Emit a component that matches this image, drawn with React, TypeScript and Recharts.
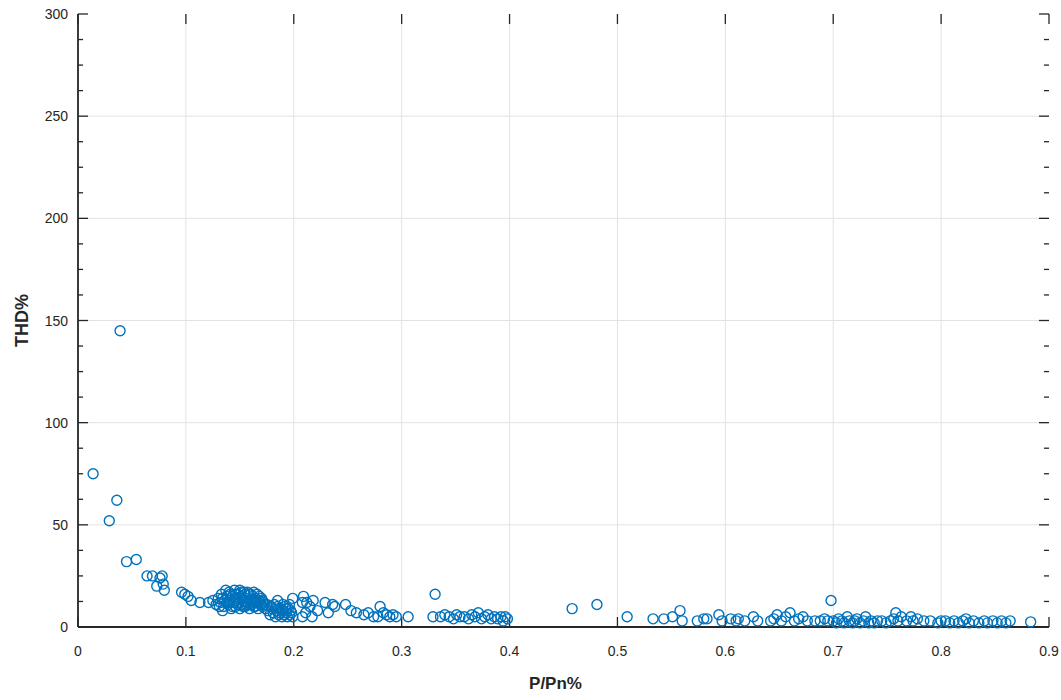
import { ScatterChart, Scatter, XAxis, YAxis, ReferenceLine } from "recharts"

// P/Pn (fraction) vs THD%
const steepPoints: [number, number][] = [
  [0.014, 75], [0.029, 52], [0.036, 62], [0.039, 145], [0.045, 32], [0.054, 33],
  [0.064, 25], [0.069, 25], [0.073, 20], [0.076, 24], [0.078, 25], [0.079, 21],
  [0.080, 18], [0.096, 17], [0.099, 16], [0.102, 15], [0.105, 13], [0.113, 12],
  [0.121, 12],
]

const clusterPoints: [number, number][] = [
  [0.125, 13], [0.128, 11], [0.130, 14], [0.132, 12], [0.133, 16], [0.134, 8],
  [0.135, 10], [0.136, 13], [0.137, 18], [0.138, 15], [0.139, 11], [0.140, 17],
  [0.140, 12], [0.141, 13], [0.142, 9], [0.143, 15], [0.144, 12], [0.145, 18],
  [0.146, 10], [0.146, 16], [0.147, 14], [0.148, 16], [0.149, 12], [0.150, 9],
  [0.150, 18], [0.151, 15], [0.152, 11], [0.152, 14], [0.153, 13], [0.154, 17],
  [0.155, 10], [0.156, 14], [0.157, 12], [0.157, 17], [0.158, 16], [0.158, 11],
  [0.159, 9], [0.160, 13], [0.161, 11], [0.162, 15], [0.163, 10], [0.163, 17],
  [0.164, 14], [0.165, 12], [0.166, 16], [0.167, 9], [0.168, 13], [0.169, 11],
  [0.170, 14], [0.171, 10], [0.172, 12], [0.174, 9], [0.175, 11],
  [0.131, 10], [0.134, 14], [0.138, 12], [0.141, 16], [0.143, 10], [0.145, 13],
  [0.148, 11], [0.151, 17], [0.153, 10], [0.155, 16], [0.156, 11], [0.160, 16],
  [0.162, 12], [0.164, 10], [0.166, 13], [0.168, 15], [0.171, 13], [0.173, 11],
  [0.176, 8], [0.178, 6], [0.180, 9], [0.181, 7], [0.182, 11], [0.183, 5],
  [0.184, 8], [0.185, 10], [0.185, 13], [0.186, 6], [0.187, 7], [0.188, 9],
  [0.189, 5], [0.190, 8], [0.190, 11], [0.191, 6], [0.192, 10], [0.193, 7],
  [0.194, 5], [0.195, 9], [0.196, 6], [0.197, 8], [0.198, 7], [0.199, 5],
  [0.199, 14], [0.179, 10], [0.186, 9], [0.193, 9], [0.196, 11],
]

const midPoints: [number, number][] = [
  [0.208, 12], [0.209, 15], [0.208, 5], [0.211, 7], [0.212, 12], [0.215, 10],
  [0.217, 5], [0.218, 13], [0.222, 8], [0.229, 12], [0.232, 7], [0.236, 11],
  [0.238, 10], [0.248, 11], [0.253, 8], [0.258, 7], [0.265, 6], [0.269, 7],
  [0.274, 5], [0.278, 5], [0.280, 10], [0.283, 7], [0.286, 6], [0.289, 5],
  [0.292, 6], [0.295, 5], [0.306, 5],
  [0.329, 5], [0.331, 16], [0.336, 5], [0.340, 6], [0.344, 5], [0.348, 4],
  [0.351, 6], [0.354, 5], [0.358, 5], [0.362, 4], [0.365, 6], [0.368, 5],
  [0.371, 7], [0.374, 4], [0.377, 5], [0.380, 6], [0.383, 4], [0.386, 5],
  [0.389, 4], [0.392, 5], [0.394, 3], [0.396, 5], [0.398, 4],
  [0.458, 9], [0.481, 11],
]

const highPoints: [number, number][] = [
  [0.509, 5], [0.533, 4], [0.543, 4], [0.551, 5], [0.558, 8], [0.560, 3],
  [0.574, 3], [0.580, 4], [0.583, 4], [0.594, 6], [0.597, 3], [0.605, 4],
  [0.610, 3], [0.612, 4], [0.618, 3], [0.626, 5], [0.630, 3], [0.642, 3],
  [0.645, 4], [0.648, 6], [0.652, 3], [0.656, 5], [0.660, 7], [0.664, 3],
  [0.668, 4], [0.672, 5], [0.676, 3], [0.683, 3], [0.688, 3], [0.692, 4],
  [0.695, 3], [0.698, 13], [0.700, 3], [0.703, 2], [0.705, 4], [0.708, 3],
  [0.710, 2], [0.713, 5], [0.715, 3], [0.718, 2], [0.720, 3], [0.722, 4],
  [0.725, 2], [0.728, 3], [0.730, 5], [0.733, 2], [0.735, 3], [0.738, 2],
  [0.741, 3], [0.745, 3], [0.749, 2], [0.753, 3], [0.756, 4], [0.758, 7],
  [0.760, 3], [0.763, 5], [0.768, 3], [0.772, 5], [0.774, 3], [0.778, 4],
  [0.784, 3], [0.790, 3], [0.797, 2], [0.800, 3], [0.804, 3], [0.808, 2],
  [0.812, 3], [0.816, 2], [0.820, 3], [0.823, 4], [0.826, 2], [0.830, 3],
  [0.835, 2], [0.840, 3], [0.843, 2], [0.848, 3], [0.852, 2], [0.856, 3],
  [0.860, 2], [0.864, 3], [0.883, 2.5],
]

const xTicks = [0, 0.1, 0.2, 0.3, 0.4, 0.5, 0.6, 0.7, 0.8, 0.9]
const xGrid = [0.1, 0.2, 0.3, 0.4, 0.5, 0.6, 0.7, 0.8]
const yTicks = [0, 50, 100, 150, 200, 250, 300]
const yMinorTicks = [
  12.5, 25, 37.5, 62.5, 75, 87.5, 112.5, 125, 137.5,
  162.5, 175, 187.5, 212.5, 225, 237.5, 262.5, 275, 287.5,
]
const yGrid = [50, 100, 150, 200, 250]

const X_MAX = 0.9
const Y_MAX = 300
// tick lengths in data units (about 10px major, 5px minor)
const X_TICK_MAJOR = 0.0093
const X_TICK_MINOR = 0.0047
const Y_TICK = 4.9

const AXIS = "#262626"
const GRID = "#e3e3e3"
const MARKER = "#0072BD"
const FONT = "'Liberation Sans', Arial, sans-serif"

const data = [...steepPoints, ...clusterPoints, ...midPoints, ...highPoints].map(
  ([x, y]) => ({ x, y })
)

function LeftTick(props: any) {
  const { x, y, payload } = props
  return (
    <text x={x} y={y} dy={5} textAnchor="end" fontSize={14} fontFamily={FONT} fill={AXIS}>
      {payload.value}
    </text>
  )
}

function BottomTick(props: any) {
  const { x, y, payload } = props
  return (
    <text x={x} y={y} dy={16} textAnchor="middle" fontSize={14} fontFamily={FONT} fill={AXIS}>
      {payload.value}
    </text>
  )
}

function Ring(props: any) {
  const { cx, cy } = props
  return <circle cx={cx} cy={cy} r={5} fill="none" stroke={MARKER} strokeWidth={1.4} />
}

export default function App() {
  const tickStyle = { stroke: AXIS, strokeWidth: 1.3 }
  return (
    <div style={{ position: "absolute", left: 0, top: 0, background: "#fff" }}>
      <ScatterChart width={1061} height={700} margin={{ top: 14, right: 12, bottom: 0, left: 0 }}>
        <XAxis
          type="number"
          dataKey="x"
          domain={[0, X_MAX]}
          ticks={xTicks}
          interval={0}
          height={73}
          tickSize={0}
          tickMargin={13}
          tick={<BottomTick />}
          tickLine={false}
          axisLine={{ stroke: AXIS, strokeWidth: 1.8 }}
          label={{
            value: "P/Pn%",
            position: "insideBottom",
            offset: 11,
            dx: -8,
            style: { fill: AXIS, fontSize: 17, fontWeight: "bold", fontFamily: FONT },
          }}
        />
        <XAxis
          xAxisId="top"
          orientation="top"
          type="number"
          domain={[0, X_MAX]}
          height={0}
          tick={false}
          tickLine={false}
          axisLine={{ stroke: AXIS, strokeWidth: 1.8 }}
        />
        <YAxis
          type="number"
          dataKey="y"
          domain={[0, Y_MAX]}
          ticks={yTicks}
          interval={0}
          width={78}
          tickSize={0}
          tickMargin={10}
          tick={<LeftTick />}
          tickLine={false}
          axisLine={{ stroke: AXIS, strokeWidth: 1.8 }}
          label={{
            value: "THD%",
            angle: -90,
            position: "insideLeft",
            offset: 22,
            style: { fill: AXIS, fontSize: 18, fontWeight: "bold", fontFamily: FONT, textAnchor: "middle" },
          }}
        />
        <YAxis
          yAxisId="right"
          orientation="right"
          type="number"
          domain={[0, Y_MAX]}
          width={0}
          tick={false}
          tickLine={false}
          axisLine={{ stroke: AXIS, strokeWidth: 1.8 }}
        />

        {/* grid */}
        {xGrid.map((v) => (
          <ReferenceLine key={`gx-${v}`} x={v} stroke={GRID} strokeWidth={1} />
        ))}
        {yGrid.map((v) => (
          <ReferenceLine key={`gy-${v}`} y={v} stroke={GRID} strokeWidth={1} />
        ))}

        {/* inward ticks on all four sides */}
        {xTicks.map((v) => (
          <ReferenceLine key={`tb-${v}`} segment={[{ x: v, y: 0 }, { x: v, y: Y_TICK }]} {...tickStyle} />
        ))}
        {xTicks.map((v) => (
          <ReferenceLine key={`tt-${v}`} segment={[{ x: v, y: Y_MAX - Y_TICK }, { x: v, y: Y_MAX }]} {...tickStyle} />
        ))}
        {yTicks.map((v) => (
          <ReferenceLine key={`tl-${v}`} segment={[{ x: 0, y: v }, { x: X_TICK_MAJOR, y: v }]} {...tickStyle} />
        ))}
        {yTicks.map((v) => (
          <ReferenceLine key={`tr-${v}`} segment={[{ x: X_MAX - X_TICK_MAJOR, y: v }, { x: X_MAX, y: v }]} {...tickStyle} />
        ))}
        {yMinorTicks.map((v) => (
          <ReferenceLine key={`ml-${v}`} segment={[{ x: 0, y: v }, { x: X_TICK_MINOR, y: v }]} {...tickStyle} />
        ))}
        {yMinorTicks.map((v) => (
          <ReferenceLine key={`mr-${v}`} segment={[{ x: X_MAX - X_TICK_MINOR, y: v }, { x: X_MAX, y: v }]} {...tickStyle} />
        ))}

        <Scatter data={data} shape={<Ring />} isAnimationActive={false} />
      </ScatterChart>
    </div>
  )
}
